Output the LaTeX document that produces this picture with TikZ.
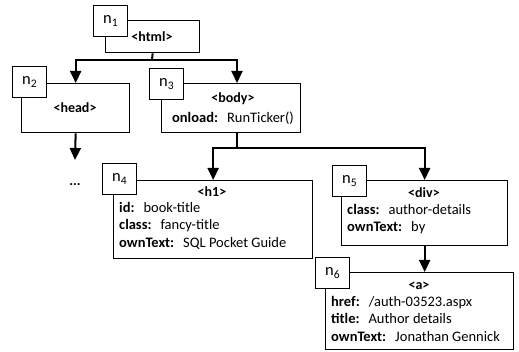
\documentclass[tikz,border=0pt]{standalone}
\usepackage{fontspec}
\setmainfont{Carlito}
\usetikzlibrary{arrows.meta}

\tikzset{
  elem/.style={draw, line width=1.3pt, fill=white, anchor=north west, inner sep=0pt},
  idbox/.style={draw, line width=1.3pt, fill=white, anchor=north west, inner sep=0pt,
    minimum width=34pt, minimum height=31pt, font=\fontsize{16.5}{16}\selectfont},
  tag/.style={font=\fontsize{14}{15}\selectfont\bfseries, inner sep=0pt},
  attrs/.style={font=\fontsize{14.5}{17.5}\selectfont, align=left, inner sep=0pt, anchor=north west},
  link/.style={line width=2pt, -{Triangle[width=11pt,length=12pt]}},
  bus/.style={line width=2pt}
}
\newcommand{\attr}[2]{\textbf{#1:}\hspace{9pt}#2}

\begin{document}
\begin{tikzpicture}[x=1pt,y=-1pt]
    \useasboundingbox (0,0) rectangle (519,352);

    % Element boxes
    \node[elem, minimum width=94pt, minimum height=32pt] (html) at (105,20) {};
    \node[elem, minimum width=108pt, minimum height=49pt] (head) at (21,83) {};
    \node[elem, minimum width=139pt, minimum height=49pt] (body) at (161,83) {};
    \node[elem, minimum width=199pt, minimum height=78pt] (h1) at (113,180) {};
    \node[elem, minimum width=166pt, minimum height=65pt] (div) at (341,180) {};
    \node[elem, minimum width=188pt, minimum height=77pt] (a) at (325,272) {};

    % Tags and attributes
    \node[tag] (htmltag) at (152,37) {<html>};
    \node[tag] (headtag) at (75,108) {<head>};
    \node[tag] (bodytag) at (233,99) {<body>};
    \node[font=\fontsize{14.5}{15}\selectfont, inner sep=0pt] (bodyattr) at (233,118) {\attr{onload}{RunTicker()}};
    \node[tag] (h1tag) at (212,192) {<h1>};
    \node[attrs] (h1attr) at (119,202) {\attr{id}{book-title}\\ \attr{class}{fancy-title}\\ \attr{ownText}{SQL Pocket Guide}};
    \node[tag] (divtag) at (424,193) {<div>};
    \node[attrs] (divattr) at (347,204) {\attr{class}{author-details}\\ \attr{ownText}{by}};
    \node[tag] (atag) at (419,286) {<a>};
    \node[attrs] (aattr) at (331,296) {\attr{href}{/auth-03523.aspx}\\ \attr{title}{Author details}\\ \attr{ownText}{Jonathan Gennick}};

    % Node numbers
    \node[idbox] (n1) at (93,5) {n\textsubscript{1}};
    \node[idbox] (n2) at (12,66) {n\textsubscript{2}};
    \node[idbox] (n3) at (149,68) {n\textsubscript{3}};
    \node[idbox] (n4) at (102,163) {n\textsubscript{4}};
    \node[idbox] (n5) at (332,165) {n\textsubscript{5}};
    \node[idbox] (n6) at (315,257) {n\textsubscript{6}};

    % Connectors
    \coordinate (bus1) at (152,60);
    \coordinate (bus2) at (237,148);
    \coordinate (bodyin) at (237,83);
    \coordinate (more) at (75,160);
    \draw[bus] (html.south) -- (bus1);
    \draw[link] (bus1) -| (head.north);
    \draw[link] (bus1) -| (bodyin);
    \draw[bus] (bodyin |- body.south) -- (bus2);
    \draw[link] (bus2) -| (h1.north);
    \draw[link] (bus2) -| (div.north);
    \draw[link] (div.south) -- (div.south |- a.north);
    \draw[link] (head.south) -- (more);
    \node[font=\fontsize{14}{15}\selectfont\bfseries] (dots) at (75,185) {...};
  \end{tikzpicture}
\end{document}
